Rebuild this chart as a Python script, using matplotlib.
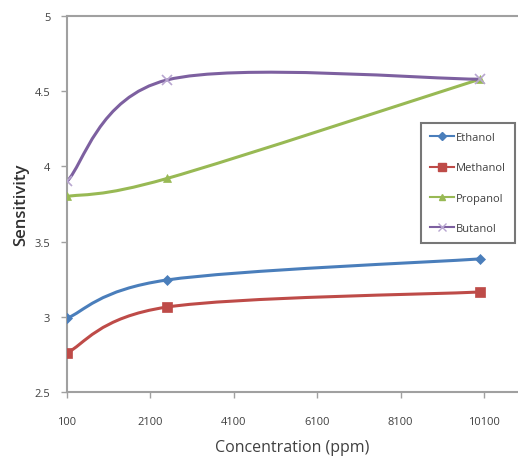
import numpy as np
import matplotlib
matplotlib.use('Agg')
import matplotlib.pyplot as plt
from matplotlib.path import Path
from matplotlib.patches import PathPatch
from matplotlib.lines import Line2D

# Datos
conc = [100, 2500, 10000]
ethanol  = [2.99, 3.245, 3.385]
methanol = [2.76, 3.065, 3.165]
propanol = [3.80, 3.92, 4.58]
butanol  = [3.90, 4.575, 4.58]
xticks = [100, 2100, 4100, 6100, 8100, 10100]
yticks = [2.5, 3, 3.5, 4, 4.5, 5]
ytick_labels = ['2.5', '3', '3.5', '4', '4.5', '5']

series = [
    ('Ethanol',  ethanol,  '#4A7EBB', 'D', 5),
    ('Methanol', methanol, '#BE4B48', 's', 7),
    ('Propanol', propanol, '#98B954', '^', 6),
    ('Butanol',  butanol,  '#7D60A0', 'x', 7),
]

plt.rcParams['font.family'] = ['Open Sans', 'DejaVu Sans']


def smooth_path(xs, ys):
    # curva suavizada tipo Excel (Catmull-Rom con bezier cúbica)
    p = np.column_stack([xs, ys]).astype(float)
    n = len(p)
    verts = [p[0]]
    codes = [Path.MOVETO]
    for i in range(n - 1):
        p0 = p[i - 1] if i > 0 else p[i]
        p1, p2 = p[i], p[i + 1]
        p3 = p[i + 2] if i + 2 < n else p[i + 1]
        c1 = p1 + (p2 - p0) / 6
        c2 = p2 - (p3 - p1) / 6
        verts += [c1, c2, p2]
        codes += [Path.CURVE4] * 3
    return Path(verts, codes)


fig = plt.figure(figsize=(5.18, 4.64), dpi=100)
fig.patch.set_facecolor('white')
ax = fig.add_axes([0.1293, 0.153, 0.8707, 0.8103])

handles = []
for name, vals, clr, mk, ms in series:
    ax.add_patch(PathPatch(smooth_path(conc, vals), facecolor='none',
                           edgecolor=clr, lw=2.2, zorder=2))
    mfc = clr if mk != 'x' else 'none'
    mec = clr if mk != 'x' else '#B8A6D0'
    ax.plot(conc, vals, ls='none', marker=mk, ms=ms, color=clr,
            mfc=mfc, mec=mec, mew=1.2 if mk == 'x' else 0.5, zorder=3)
    handles.append(Line2D([], [], color=clr, lw=1.5, marker=mk, ms=ms - 1,
                          mec=mec, mfc=mfc, label=name))

ax.set_xlim(100, 10915)
ax.set_ylim(2.5, 5)
ax.set_xticks(xticks)
ax.set_xticklabels([str(v) for v in xticks])
ax.set_yticks(yticks)
ax.set_yticklabels(ytick_labels)
ax.tick_params(axis='both', labelsize=8, color='#A0A0A0', length=4,
               width=1, labelcolor='#404040')
ax.tick_params(axis='x', pad=13)
ax.tick_params(axis='y', pad=8)
for s in ['left', 'bottom', 'top']:
    ax.spines[s].set_color('#A0A0A0')
    ax.spines[s].set_linewidth(1.5)
ax.spines['right'].set_visible(False)

ax.set_xlabel('Concentration (ppm)', fontsize=11.5, color='#404040', labelpad=9)
ax.set_ylabel('Sensitivity', fontsize=12, color='#303030',
              fontweight='semibold', labelpad=4)

leg = ax.legend(handles=handles, loc='upper left',
                bbox_to_anchor=(0.772, 0.73), fontsize=8, frameon=True,
                fancybox=False, edgecolor='#555555', handlelength=2.2,
                labelspacing=1.75, borderpad=0.8, handletextpad=0.2)
leg.get_frame().set_linewidth(1.5)
for t in leg.get_texts():
    t.set_color('#404040')

plt.savefig('out.png', dpi=100)
